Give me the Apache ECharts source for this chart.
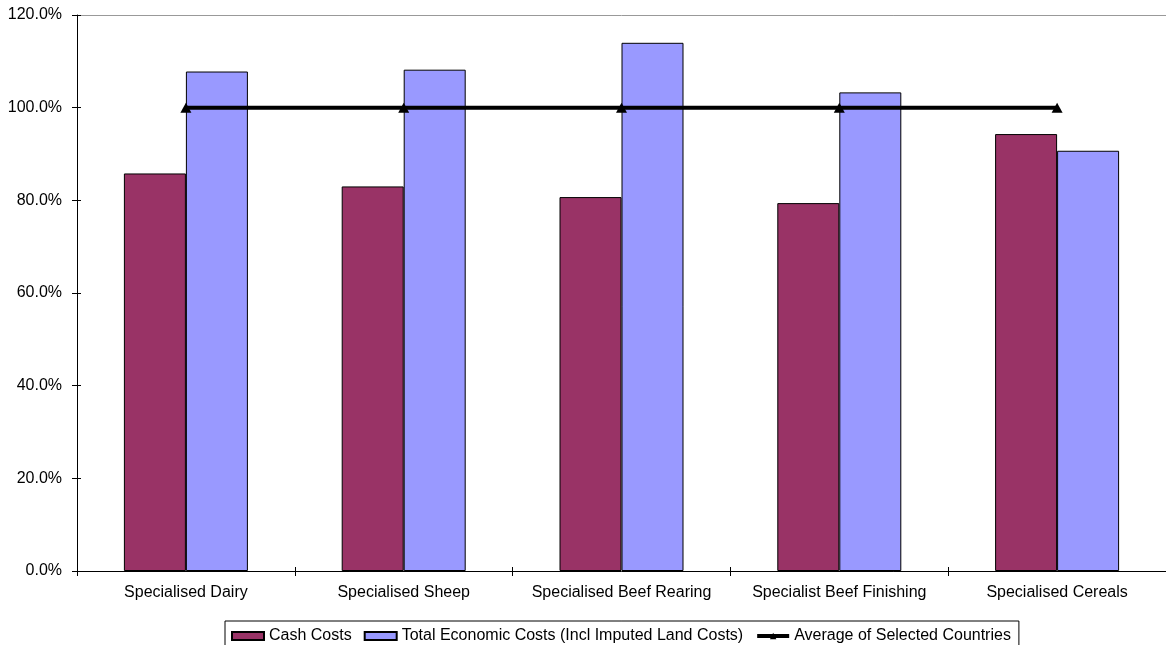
<!DOCTYPE html>
<html>
<head>
<meta charset="utf-8">
<script src="https://cdn.jsdelivr.net/npm/echarts@6/dist/echarts.min.js"></script>
<style>html,body{margin:0;padding:0;background:#fff}#c{width:1166px;height:645px}</style>
</head>
<body>
<div id="c"></div>
<script>
var categories = ['Specialised Dairy', 'Specialised Sheep', 'Specialised Beef Rearing', 'Specialist Beef Finishing', 'Specialised Cereals'];
var cashCosts = [85.8, 83.0, 80.7, 79.4, 94.3];
var totalEconomicCosts = [107.8, 108.2, 114.0, 103.3, 90.7];
var averageSelected = [100, 100, 100, 100, 100];
var yTicks = [0, 20, 40, 60, 80, 100, 120];

var FONT = '"Liberation Sans", Arial, sans-serif';
var chart = echarts.init(document.getElementById('c'));
var txt = {color: '#000', fontFamily: FONT, fontSize: 16};
chart.setOption({
  animation: false,
  backgroundColor: '#fff',
  textStyle: {fontFamily: FONT},
  grid: {left: 77, top: 15, width: 1090, height: 556, containLabel: false},
  legend: {
    left: 225, top: 621,
    padding: [7, 8, 6, 6],
    borderColor: '#000', borderWidth: 1,
    itemWidth: 32, itemHeight: 8, itemGap: 12,
    textStyle: txt,
    data: [
      {name: 'Cash Costs', icon: 'rect'},
      {name: 'Total Economic Costs (Incl Imputed Land Costs)', icon: 'rect'},
      {name: 'Average of Selected Countries', lineStyle: {width: 4, color: '#000'}}
    ]
  },
  xAxis: [
    {type: 'category', data: categories, position: 'bottom',
     axisLine: {lineStyle: {color: '#000', width: 1}},
     axisTick: {show: true, length: 5, lineStyle: {color: '#000'}},
     axisLabel: Object.assign({margin: 14, interval: 0}, txt),
     splitLine: {show: false}},
    {type: 'category', data: categories, position: 'bottom', gridIndex: 0,
     axisLine: {show: false},
     axisTick: {show: true, inside: true, length: 4, lineStyle: {color: '#000'}},
     axisLabel: {show: false}},
    {type: 'category', data: categories, position: 'top', gridIndex: 0,
     axisLine: {show: true, lineStyle: {color: '#999', width: 1}},
     axisTick: {show: false}, axisLabel: {show: false}}
  ],
  yAxis: [
    {type: 'value', min: 0, max: 120, interval: 20, position: 'left',
     axisLine: {show: true, lineStyle: {color: '#000', width: 1}},
     axisTick: {show: true, length: 5, lineStyle: {color: '#000'}},
     axisLabel: Object.assign({margin: 15, formatter: function (v) { return v.toFixed(1) + '%'; }}, txt),
     splitLine: {show: false}},
    {type: 'value', min: 0, max: 120, interval: 20, position: 'left',
     axisLine: {show: false},
     axisTick: {show: true, inside: true, length: 4, lineStyle: {color: '#000'}},
     axisLabel: {show: false}, splitLine: {show: false}}
  ],
  series: [
    {name: 'Cash Costs', type: 'bar', data: cashCosts, barWidth: 62, barGap: '0%',
     itemStyle: {color: '#993366', borderColor: '#000', borderWidth: 1}},
    {name: 'Total Economic Costs (Incl Imputed Land Costs)', type: 'bar', data: totalEconomicCosts, barWidth: 62, barGap: '0%',
     itemStyle: {color: '#9999FF', borderColor: '#000', borderWidth: 1}},
    {name: 'Average of Selected Countries', type: 'line', data: averageSelected,
     symbol: 'triangle', symbolSize: [11, 10],
     lineStyle: {color: '#000', width: 4},
     itemStyle: {color: '#000'}, z: 5}
  ]
});
</script>
</body>
</html>
